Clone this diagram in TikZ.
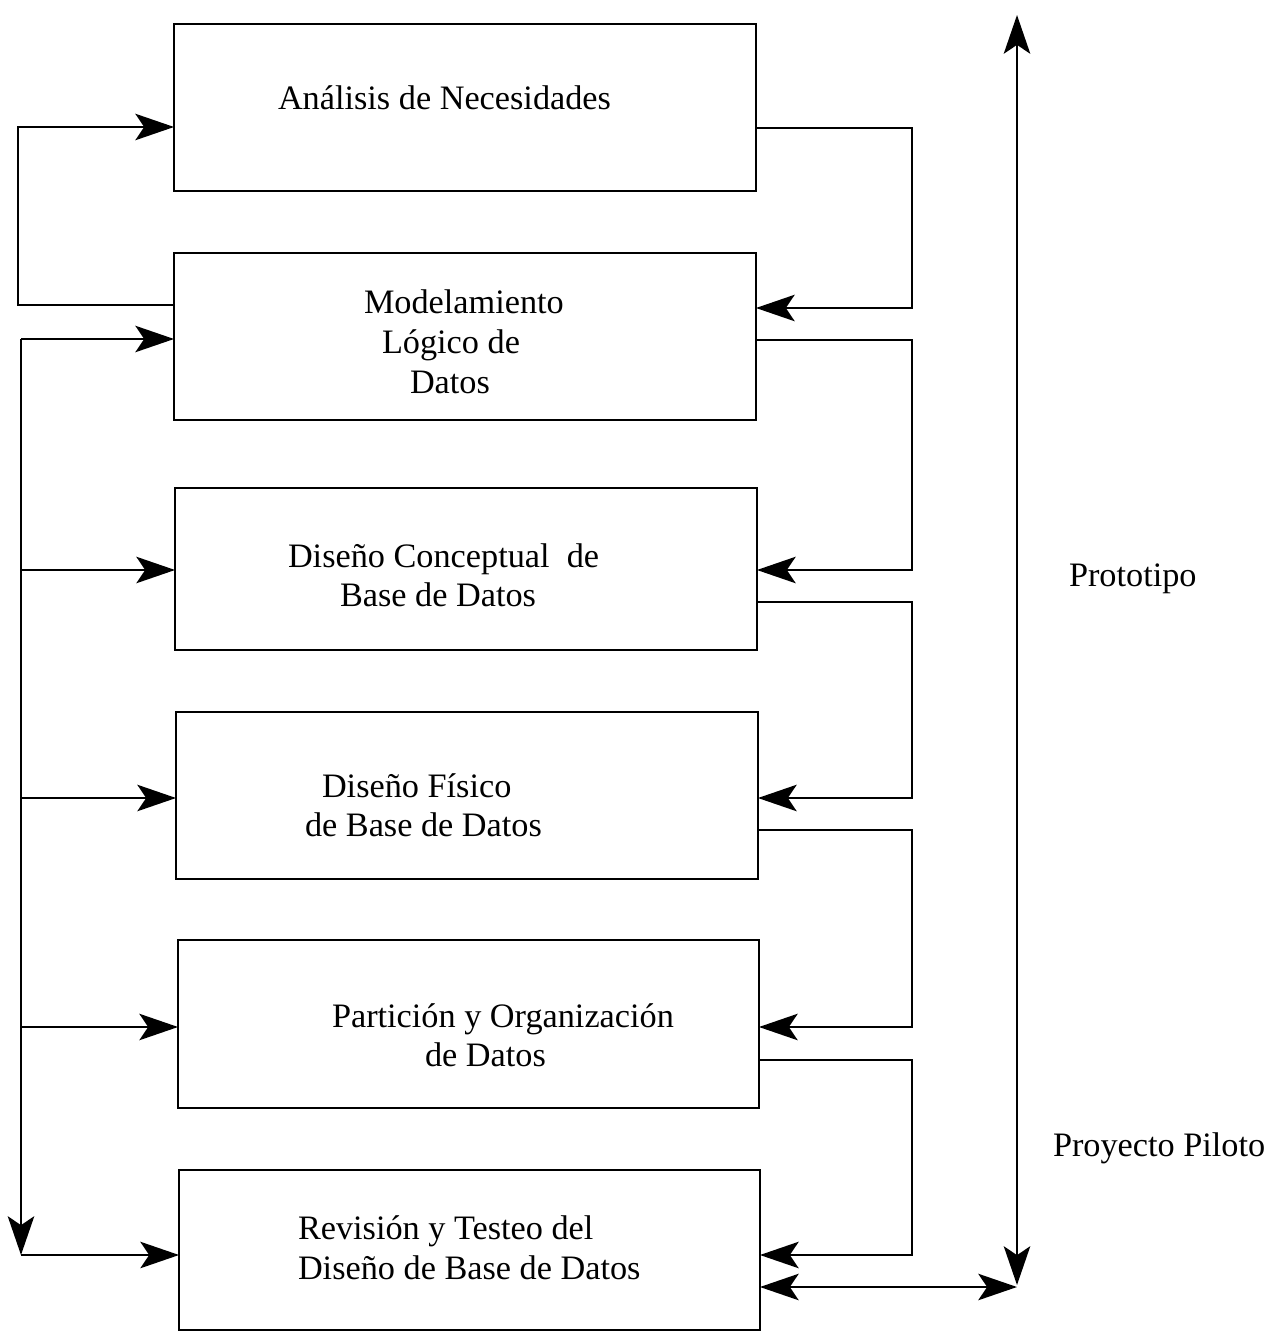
\documentclass[tikz,border=0pt]{standalone}
\usepackage{fontspec}
\setmainfont{Liberation Serif}
\usetikzlibrary{arrows.meta}
\begin{document}
\begin{tikzpicture}[x=0.02cm,y=-0.02cm,
  box/.style={draw,line width=1.6pt,rectangle,inner sep=0pt,outer sep=0pt},
  lbl/.style={anchor=base west,inner sep=0pt,outer sep=0pt,font=\fontsize{19.5}{23}\selectfont},
  tip/.tip={Stealth[length=22pt,width=15pt,inset=5pt]},
  conn/.style={line width=1.6pt,-tip},
  dconn/.style={line width=1.6pt,tip-tip}]
\useasboundingbox (0,0) rectangle (1284,1335);
% boxes
\node[box,minimum width=11.64cm,minimum height=3.34cm] (b1) at (465,107.5) {};
\node[box,minimum width=11.64cm,minimum height=3.34cm] (b2) at (465,336.5) {};
\node[box,minimum width=11.64cm,minimum height=3.24cm] (b3) at (466,569) {};
\node[box,minimum width=11.64cm,minimum height=3.34cm] (b4) at (467,795.5) {};
\node[box,minimum width=11.62cm,minimum height=3.36cm] (b5) at (468.5,1024) {};
\node[box,minimum width=11.62cm,minimum height=3.20cm] (b6) at (469.5,1250) {};
% texts
\node[lbl] (t1) at (278,110) {Análisis de Necesidades};
\node[lbl] (t2a) at (364,313) {Modelamiento};
\node[lbl] (t2b) at (382,353) {Lógico de};
\node[lbl] (t2c) at (410,393) {Datos};
\node[lbl] (t3a) at (288,567) {Diseño Conceptual~ de};
\node[lbl] (t3b) at (340,606) {Base de Datos};
\node[lbl] (t4a) at (322,797) {Diseño Físico};
\node[lbl] (t4b) at (305,836) {de Base de Datos};
\node[lbl] (t5a) at (332,1027) {Partición y Organización};
\node[lbl] (t5b) at (425,1066) {de Datos};
\node[lbl] (t6a) at (298,1239) {Revisión y Testeo del};
\node[lbl] (t6b) at (298,1279) {Diseño de Base de Datos};
\node[lbl] (p1) at (1069,586) {Prototipo};
\node[lbl] (p2) at (1053,1156) {Proyecto Piloto};
% left feedback loop
\coordinate (la) at (18,305);
\coordinate (lb) at (18,127);
\draw[conn] (b2.west |- la) -- (la) -- (lb) -- (b1.west |- lb);
% left spine
\coordinate (s0) at (21,339);
\coordinate (s3) at (21,570);
\coordinate (s4) at (21,798);
\coordinate (s5) at (21,1027);
\coordinate (s6) at (21,1255);
\draw[conn] (s0) -- (b2.west |- s0);
\draw[conn] (s0) -- (s6);
\draw[conn] (s3) -- (b3.west |- s3);
\draw[conn] (s4) -- (b4.west |- s4);
\draw[conn] (s5) -- (b5.west |- s5);
\draw[conn] (s6) -- (b6.west |- s6);
% right loops
\coordinate (r1a) at (912,128); \coordinate (r1b) at (912,308);
\coordinate (r2a) at (912,340); \coordinate (r2b) at (912,570);
\coordinate (r3a) at (912,602); \coordinate (r3b) at (912,798);
\coordinate (r4a) at (912,830); \coordinate (r4b) at (912,1027);
\coordinate (r5a) at (912,1060); \coordinate (r5b) at (912,1255);
\draw[conn] (b1.east |- r1a) -- (r1a) -- (r1b) -- (b2.east |- r1b);
\draw[conn] (b2.east |- r2a) -- (r2a) -- (r2b) -- (b3.east |- r2b);
\draw[conn] (b3.east |- r3a) -- (r3a) -- (r3b) -- (b4.east |- r3b);
\draw[conn] (b4.east |- r4a) -- (r4a) -- (r4b) -- (b5.east |- r4b);
\draw[conn] (b5.east |- r5a) -- (r5a) -- (r5b) -- (b6.east |- r5b);
% prototype / pilot arrows
\coordinate (pt) at (1017,15);
\coordinate (pb) at (1017,1285);
\coordinate (ph) at (1017,1287);
\draw[dconn] (pt) -- (pb);
\draw[dconn] (b6.east |- ph) -- (ph);
\end{tikzpicture}
\end{document}
